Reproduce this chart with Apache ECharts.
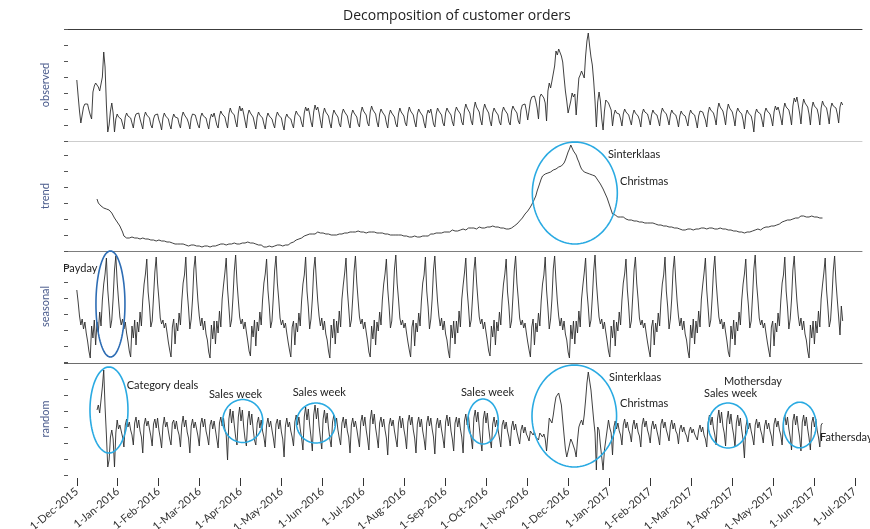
<!DOCTYPE html>
<html>
<head>
<meta charset="utf-8">
<title>Decomposition of customer orders</title>
<script src="https://cdn.jsdelivr.net/npm/echarts@6/dist/echarts.min.js"></script>
<style>
  html, body { margin: 0; padding: 0; background: #ffffff; }
  #chart { width: 870px; height: 529px; }
</style>
</head>
<body>
<div id="chart"></div>
<script>
// Day 0 is 1 Dec 2015; every series is one value per day.
const SPAN_DAYS = 578; // 1-Dec-2015 .. 1-Jul-2017

const monthLabels = [
  '1-Dec-2015', '1-Jan-2016', '1-Feb-2016', '1-Mar-2016', '1-Apr-2016', '1-May-2016',
  '1-Jun-2016', '1-Jul-2016', '1-Aug-2016', '1-Sep-2016', '1-Oct-2016', '1-Nov-2016',
  '1-Dec-2016', '1-Jan-2017', '1-Feb-2017', '1-Mar-2017', '1-Apr-2017', '1-May-2017',
  '1-Jun-2017', '1-Jul-2017'
];

// Daily customer orders (index units), starting at day 0.
const observedStart = 0;
const observed = [
  61, 45, 30, 18, 26, 34, 37, 36, 37, 31, 26, 22, 49, 55,
  58, 57, 54, 50, 48, 64, 89, 74, 36, 9, 16, 30, 38, 28,
  9, 22, 27, 24, 26, 22, 17,
  12, 24, 28, 25, 27, 23, 18,
  13, 23, 27, 25, 28, 22, 17,
  12, 24, 29, 26, 27, 23, 16,
  13, 22, 26, 24, 27, 21, 17,
  11, 23, 28, 25, 26, 22, 16,
  12, 22, 27, 24, 26, 23, 17,
  13, 24, 29, 26, 28, 22, 18,
  12, 23, 27, 25, 26, 21, 16,
  13, 24, 28, 25, 27, 23, 17,
  12, 22, 27, 24, 28, 22, 16,
  13, 25, 30, 27, 29, 24, 18,
  13, 27, 33, 29, 31, 26, 19,
  14, 28, 35, 30, 33, 27, 20,
  13, 26, 31, 28, 30, 24, 18,
  12, 24, 29, 26, 28, 23, 17,
  12, 23, 28, 25, 27, 22, 17,
  13, 24, 29, 26, 28, 23, 16,
  11, 23, 27, 24, 26, 22, 17,
  13, 25, 30, 27, 29, 24, 18,
  14, 28, 34, 30, 33, 27, 19,
  14, 29, 36, 31, 34, 28, 20,
  13, 27, 33, 29, 31, 25, 18,
  13, 25, 31, 28, 30, 24, 17,
  14, 27, 32, 29, 31, 25, 18,
  13, 26, 31, 28, 30, 24, 17,
  14, 28, 34, 30, 32, 26, 18,
  15, 29, 35, 31, 33, 27, 19,
  14, 27, 32, 29, 31, 25, 18,
  13, 26, 31, 28, 30, 24, 17,
  14, 27, 33, 29, 31, 25, 18,
  15, 28, 34, 30, 32, 26, 19,
  14, 27, 32, 29, 31, 25, 18,
  13, 26, 31, 28, 32, 25, 17,
  14, 27, 33, 30, 31, 26, 18,
  15, 28, 33, 30, 32, 26, 19,
  15, 29, 34, 31, 33, 27, 19,
  16, 31, 37, 33, 35, 28, 20,
  16, 32, 39, 34, 36, 29, 21,
  16, 31, 37, 33, 35, 28, 20,
  15, 28, 33, 30, 32, 26, 19,
  16, 29, 34, 31, 33, 27, 19,
  16, 30, 35, 32, 34, 28, 20,
  17, 31, 36, 34, 37, 30, 21,
  20, 40, 44, 42, 45, 40, 33,
  22, 44, 47, 49, 43, 38, 20,
  50, 58, 53, 60, 62, 75, 90,
  86, 92, 93, 85, 79, 64, 50,
  40, 28, 26, 40, 48, 44, 47,
  26, 45, 63, 66, 70, 72, 63,
  85, 100, 108, 95, 84, 76, 60,
  40, 14, 39, 49, 40, 22, 11,
  30, 41, 40, 38, 36, 31, 15,
  26, 31, 28, 30, 27, 22, 15,
  27, 32, 29, 31, 26, 21, 16,
  26, 31, 28, 30, 25, 21, 14,
  27, 32, 29, 31, 27, 22, 16,
  26, 31, 28, 30, 26, 21, 15,
  27, 33, 30, 32, 27, 22, 16,
  26, 31, 28, 30, 26, 21, 14,
  25, 30, 27, 29, 25, 20, 15,
  26, 31, 28, 30, 26, 20, 13,
  25, 30, 28, 29, 25, 21, 14,
  28, 34, 31, 33, 28, 23, 16,
  31, 38, 34, 36, 30, 24, 16,
  30, 37, 33, 35, 29, 23, 15,
  28, 33, 30, 32, 27, 21, 12,
  26, 31, 28, 30, 25, 19, 9,
  27, 32, 29, 31, 27, 21, 14,
  28, 33, 30, 32, 27, 22, 15,
  29, 35, 31, 34, 29, 23, 16,
  31, 38, 34, 36, 31, 25, 16,
  35, 43, 39, 44, 36, 28, 17,
  34, 42, 38, 40, 34, 27, 16,
  32, 39, 35, 37, 32, 26, 16,
  33, 40, 36, 38, 33, 26, 17,
  32, 38, 35, 37, 33, 27, 18,
  34, 39, 36
];

// Trend component, starting at day 15.
const trendStart = 15;
const trend = [
  52, 48, 46, 45, 44, 43, 43, 42, 42, 41,
  40, 38, 36, 33, 31, 29, 27, 25, 22, 19,
  15, 13, 13, 14, 13, 13, 14, 13, 13, 12,
  13, 13, 12, 12, 13, 12, 12, 11, 12, 11,
  11, 12, 11, 11, 10, 11, 11, 10, 10, 9,
  10, 9, 9, 8, 9, 8, 8, 8, 7, 8,
  7, 7, 7, 6, 7, 6, 6, 6, 5, 6,
  6, 5, 6, 5, 5, 6, 5, 5, 4, 5,
  5, 4, 5, 5, 4, 5, 5, 6, 5, 6,
  6, 6, 7, 6, 7, 7, 6, 7, 7, 8,
  7, 7, 8, 7, 7, 8, 7, 8, 8, 7,
  8, 8, 9, 8, 8, 9, 8, 7, 7, 6,
  6, 5, 6, 5, 4, 5, 4, 4, 5, 5,
  4, 5, 5, 5, 6, 5, 6, 6, 5, 6,
  6, 7, 6, 7, 8, 9, 9, 10, 11, 12,
  12, 13, 13, 14, 15, 15, 16, 16, 17, 16,
  17, 18, 17, 18, 19, 18, 18, 17, 18, 17,
  17, 16, 17, 16, 16, 17, 16, 16, 16, 17,
  17, 18, 17, 18, 18, 19, 18, 19, 19, 18,
  19, 18, 19, 19, 20, 19, 19, 20, 19, 19,
  18, 19, 19, 18, 19, 18, 19, 18, 18, 18,
  18, 17, 18, 17, 17, 16, 17, 17, 16, 17,
  16, 16, 16, 17, 16, 15, 16, 15, 15, 16,
  15, 15, 14, 15, 14, 14, 15, 14, 14, 13,
  14, 14, 15, 14, 15, 16, 15, 16, 17, 16,
  17, 17, 18, 17, 18, 19, 18, 19, 19, 20,
  19, 20, 19, 20, 21, 20, 20, 19, 20, 20,
  21, 21, 22, 22, 21, 22, 23, 22, 23, 22,
  23, 23, 22, 23, 24, 23, 23, 24, 23, 24,
  24, 23, 24, 24, 25, 24, 24, 23, 24, 24,
  23, 24, 23, 23, 22, 23, 22, 22, 23, 24,
  25, 26, 27, 28, 30, 31, 33, 35, 37, 38,
  40, 42, 44, 46, 49, 52, 55, 60, 64, 68,
  72, 75, 76, 77, 77, 78, 79, 79, 80, 81,
  81, 82, 83, 84, 84, 85, 86, 88, 91, 95,
  99, 102, 106, 103, 100, 98, 96, 92, 89, 85,
  82, 80, 79, 79, 78, 78, 77, 77, 76, 76,
  75, 73, 71, 69, 67, 65, 62, 59, 56, 53,
  49, 45, 41, 37, 35, 36, 35, 34, 35, 34,
  33, 34, 33, 32, 32, 31, 32, 31, 31, 30,
  31, 30, 30, 29, 30, 29, 29, 28, 29, 28,
  28, 28, 27, 28, 27, 27, 27, 26, 27, 26,
  26, 25, 26, 25, 25, 24, 25, 24, 24, 23,
  24, 23, 23, 22, 22, 21, 22, 21, 21, 22,
  21, 22, 22, 21, 22, 22, 23, 22, 22, 23,
  22, 23, 23, 22, 23, 23, 22, 23, 23, 22,
  23, 22, 23, 23, 22, 22, 21, 22, 21, 21,
  20, 21, 20, 20, 19, 20, 19, 19, 20, 19,
  19, 18, 19, 19, 19, 19, 20, 20, 21, 21,
  21, 22, 22, 21, 22, 23, 23, 24, 23, 24,
  24, 25, 24, 25, 25, 26, 27, 27, 28, 29,
  29, 30, 30, 31, 30, 31, 32, 32, 33, 33,
  34, 33, 34, 35, 34, 35, 35, 34, 35, 34,
  34, 35, 34, 34, 33, 34, 33, 33, 34, 33
];

// Monthly (payday) seasonal component, starting at day 0.
const seasonalStart = 0;
const seasonal = [
  72, 60, 46, 37, 43, 33, 40, 29, 21, 11, 4, 36, 24, 42, 17, 40, 30, 50, 36, 62, 78, 88,
  104, 72, 55, 34, 42, 64, 92, 106, 80, 62, 45, 37, 43, 33, 40, 29, 21, 11, 5, 36, 24, 42, 17, 40, 30, 50, 36, 62, 78, 88,
  103, 70, 56, 35, 41, 65, 90, 105, 79, 63, 44, 38, 42, 34, 39, 30, 20, 12, 5, 35, 43, 18, 39, 31, 49, 37, 61, 79, 87,
  105, 71, 54, 33, 43, 63, 93, 106, 81, 61, 46, 36, 44, 32, 41, 28, 22, 10, 4, 37, 23, 41, 18, 41, 29, 51, 35, 63, 77, 89,
  104, 73, 55, 35, 42, 64, 91, 107, 80, 62, 45, 38, 43, 33, 40, 30, 21, 11, 6, 36, 25, 42, 16, 40, 31, 50, 37, 62, 79, 88,
  103, 72, 56, 34, 41, 65, 92, 106, 79, 63, 44, 37, 42, 34, 39, 29, 20, 12, 5, 35, 41, 17, 39, 30, 49, 36, 61, 78, 87,
  105, 71, 55, 33, 43, 63, 92, 105, 81, 61, 46, 36, 44, 32, 41, 28, 22, 11, 4, 37, 24, 43, 18, 41, 29, 51, 35, 63, 77, 89,
  104, 72, 54, 35, 42, 64, 91, 106, 80, 62, 45, 38, 43, 33, 40, 30, 21, 10, 5, 36, 23, 42, 17, 40, 31, 50, 37, 62, 78, 88,
  103, 73, 56, 34, 41, 65, 93, 107, 79, 63, 44, 37, 42, 34, 39, 29, 20, 12, 5, 35, 42, 16, 39, 30, 49, 36, 61, 79, 87,
  105, 71, 55, 33, 43, 63, 92, 106, 81, 61, 46, 36, 44, 32, 41, 28, 22, 11, 4, 37, 24, 41, 18, 41, 29, 51, 35, 63, 77, 89,
  104, 72, 55, 35, 42, 64, 91, 105, 80, 62, 45, 38, 43, 33, 40, 30, 21, 11, 6, 36, 25, 42, 17, 40, 31, 50, 37, 62, 78, 88,
  103, 70, 56, 34, 41, 65, 92, 106, 79, 63, 44, 37, 42, 34, 39, 29, 20, 12, 5, 35, 43, 17, 39, 30, 49, 36, 61, 78, 87,
  105, 72, 54, 33, 43, 63, 93, 106, 81, 61, 46, 36, 44, 32, 41, 28, 22, 10, 4, 37, 23, 41, 18, 41, 29, 51, 35, 63, 77, 89,
  104, 71, 55, 35, 42, 64, 91, 107, 80, 62, 45, 38, 43, 33, 40, 30, 21, 11, 5, 36, 24, 42, 16, 40, 31, 50, 37, 62, 79, 88,
  103, 73, 56, 34, 41, 65, 92, 105, 79, 63, 44, 37, 42, 34, 39, 29, 20, 12, 5, 35, 42, 17, 39, 30, 49, 36, 61, 78, 87,
  105, 71, 55, 33, 43, 63, 92, 106, 81, 61, 46, 36, 44, 32, 41, 28, 22, 11, 4, 37, 24, 43, 18, 41, 29, 51, 35, 63, 77, 89,
  104, 72, 54, 35, 42, 64, 91, 106, 80, 62, 45, 38, 43, 33, 40, 30, 21, 10, 5, 36, 23, 42, 17, 40, 31, 50, 37, 62, 78, 88,
  103, 72, 56, 34, 41, 65, 93, 107, 79, 63, 44, 37, 42, 34, 39, 29, 20, 12, 5, 35, 41, 16, 39, 30, 49, 36, 61, 79, 87,
  105, 71, 55, 33, 43, 63, 92, 106, 81, 61, 46, 36, 44, 32, 41, 28, 22, 11, 4, 37, 24, 41, 18, 41, 29, 51, 35, 63, 77, 89,
  104, 72, 55, 35, 42, 64, 91, 106, 80, 62, 45, 27, 56, 41
];

// Remainder component, starting at day 15.
const randomStart = 15;
const random = [
  65, 70, 62, 60, 88, 105, 68, 40, 8, 15, 38, 45, 36,
  8, 42, 55, 46, 50, 44, 38,
  28, 50, 56, 48, 53, 45, 40,
  30, 52, 58, 47, 55, 44, 38,
  22, 50, 57, 49, 54, 46, 39,
  29, 51, 56, 47, 57, 45, 37,
  27, 49, 58, 48, 53, 44, 36,
  30, 52, 55, 46, 54, 45, 40,
  28, 50, 59, 48, 55, 43, 37,
  22, 49, 56, 47, 53, 46, 39,
  29, 51, 57, 48, 56, 44, 38,
  30, 50, 55, 46, 54, 45, 36,
  27, 52, 58, 49, 57, 46, 40,
  15, 56, 66, 52, 64, 50, 38,
  30, 58, 68, 54, 65, 48, 36,
  29, 55, 64, 50, 61, 46, 35,
  30, 52, 58, 47, 55, 44, 38,
  28, 50, 57, 48, 54, 45, 37,
  27, 51, 56, 46, 55, 43, 36,
  18, 49, 57, 48, 53, 44, 38,
  29, 53, 60, 50, 58, 46, 37,
  25, 58, 68, 55, 66, 50, 38,
  24, 60, 70, 56, 67, 49, 37,
  26, 56, 65, 52, 62, 47, 36,
  28, 53, 60, 49, 57, 45, 37,
  30, 52, 58, 47, 56, 44, 38,
  22, 50, 57, 48, 54, 46, 37,
  28, 53, 60, 49, 58, 45, 36,
  25, 55, 65, 51, 61, 47, 38,
  27, 52, 58, 48, 56, 45, 37,
  20, 50, 57, 49, 55, 44, 36,
  28, 52, 59, 47, 57, 46, 38,
  26, 53, 60, 50, 58, 45, 37,
  22, 51, 58, 48, 56, 44, 36,
  25, 52, 59, 49, 57, 46, 38,
  21, 50, 57, 47, 55, 45, 37,
  27, 53, 60, 49, 58, 44, 36,
  24, 52, 58, 48, 57, 46, 38,
  22, 54, 61, 50, 59, 45, 37,
  26, 57, 65, 53, 63, 48, 35,
  24, 56, 64, 52, 62, 47, 36,
  27, 51, 58, 48, 55, 45, 37,
  28, 50, 55, 46, 53, 44, 38,
  29, 48, 54, 45, 51, 43, 37,
  31, 45, 50, 42, 48, 41, 38,
  34, 44, 46, 40, 43, 38, 36,
  35, 42, 40, 38, 41, 36, 24,
  23, 57, 55, 52, 60, 70, 78,
  80, 82, 82, 70, 55, 40, 26,
  18, 24, 30, 36, 33, 32, 25,
  18, 35, 48, 52, 55, 50, 60,
  75, 92, 103, 94, 85, 70, 55,
  42, 5, 48, 45, 30, 18, 5,
  25, 35, 45, 55, 47, 42, 20,
  48, 54, 46, 52, 44, 40, 30,
  50, 56, 47, 53, 45, 41, 33,
  49, 55, 46, 52, 43, 39, 28,
  50, 57, 48, 54, 45, 40, 32,
  48, 54, 46, 51, 44, 38, 30,
  51, 56, 47, 53, 45, 40, 34,
  49, 55, 46, 52, 44, 41, 31,
  46, 50, 43, 48, 42, 39, 33,
  44, 48, 42, 46, 41, 38, 35,
  45, 50, 43, 48, 40, 36, 28,
  52, 60, 50, 58, 47, 40, 30,
  56, 65, 52, 63, 49, 42, 29,
  55, 64, 51, 61, 48, 40, 28,
  52, 60, 49, 57, 45, 35, 17,
  48, 55, 46, 52, 44, 38, 30,
  50, 56, 47, 53, 45, 40, 32,
  49, 55, 46, 52, 44, 39, 29,
  51, 57, 48, 54, 45, 40, 30,
  53, 60, 50, 58, 46, 38, 25,
  54, 61, 50, 59, 47, 38, 24,
  53, 60, 49, 58, 46, 37, 25,
  52, 58, 48, 56, 45, 38, 28,
  50, 52
];

// Circled events: panel index, centre as (day, value), radii in pixels.
const eventRings = [
  { panel: 2, day: 25.0, value: 58, rx: 14.5, ry: 53, color: '#2e6db4' },
  { panel: 1, day: 370.0, value: 58, rx: 42.5, ry: 51, color: '#2aaae2' },
  { panel: 3, day: 23.9, value: 65, rx: 19, ry: 43, color: '#2aaae2' },
  { panel: 3, day: 123.3, value: 54, rx: 20, ry: 21.5, color: '#2aaae2' },
  { panel: 3, day: 177.7, value: 52, rx: 19.5, ry: 20, color: '#2aaae2' },
  { panel: 3, day: 301.8, value: 53.5, rx: 15.3, ry: 22.5, color: '#2aaae2' },
  { panel: 3, day: 369.6, value: 59, rx: 42.3, ry: 51, color: '#2aaae2' },
  { panel: 3, day: 483.8, value: 49.5, rx: 19.7, ry: 22.5, color: '#2aaae2' },
  { panel: 3, day: 537.1, value: 50, rx: 16.4, ry: 22.8, color: '#2aaae2' }
];

// Event notes: panel index, left edge as day, vertical centre as value.
const eventNotes = [
  { panel: 2, day: -10.3, value: 94, text: 'Payday' },
  { panel: 1, day: 394.6, value: 97, text: 'Sinterklaas' },
  { panel: 1, day: 403.6, value: 70, text: 'Christmas' },
  { panel: 3, day: 37.1, value: 90, text: 'Category deals' },
  { panel: 3, day: 98.2, value: 81, text: 'Sales week' },
  { panel: 3, day: 160.4, value: 83, text: 'Sales week' },
  { panel: 3, day: 285.4, value: 83, text: 'Sales week' },
  { panel: 3, day: 395.4, value: 98, text: 'Sinterklaas' },
  { panel: 3, day: 403.6, value: 72, text: 'Christmas' },
  { panel: 3, day: 466.0, value: 82, text: 'Sales week' },
  { panel: 3, day: 480.8, value: 94, text: 'Mothersday' },
  { panel: 3, day: 552.1, value: 38, text: 'Fathersday' }
];

const panels = [
  { name: 'observed', start: observedStart, values: observed, top: 29,  height: 112, edge: '#3c3c3c' },
  { name: 'trend',    start: trendStart,    values: trend,    top: 141, height: 110, edge: '#cdcdcd' },
  { name: 'seasonal', start: seasonalStart, values: seasonal, top: 251, height: 111, edge: '#7d7d7d' },
  { name: 'random',   start: randomStart,   values: random,   top: 363, height: 112, edge: '#6d6d6d' }
];

const PLOT_LEFT = 68, PLOT_RIGHT = 862;
const TICK_FIRST_PX = 76.8, TICK_LAST_PX = 854.8;
const pxPerDay = (TICK_LAST_PX - TICK_FIRST_PX) / SPAN_DAYS;
const X_MIN = -(TICK_FIRST_PX - PLOT_LEFT) / pxPerDay;
const X_MAX = SPAN_DAYS + (PLOT_RIGHT - TICK_LAST_PX) / pxPerDay;
const tickStep = SPAN_DAYS / (monthLabels.length - 1);
const tickDays = monthLabels.map((_, i) => i * tickStep);

const FONT = 'Lato, "Open Sans", "Liberation Sans", sans-serif';

const grids = [], xAxes = [], yAxes = [], series = [];
panels.forEach((p, i) => {
  grids.push({
    left: PLOT_LEFT, width: PLOT_RIGHT - PLOT_LEFT, top: p.top, height: p.height,
    containLabel: false, outerBoundsMode: 'none'
  });
  xAxes.push({
    type: 'value', gridIndex: i, position: 'top', min: X_MIN, max: X_MAX,
    axisLine: { show: true, onZero: false, lineStyle: { color: p.edge, width: 1 } },
    axisTick: { show: false }, axisLabel: { show: false }, splitLine: { show: false }
  });
  yAxes.push({
    type: 'value', gridIndex: i, min: 0, max: p.height,
    name: p.name, nameLocation: 'middle', nameGap: 17,
    nameTextStyle: { color: '#4a5b8c', fontSize: 11, fontFamily: FONT },
    axisLine: { show: false, onZero: false },
    axisTick: { show: true, length: 4, inside: false, lineStyle: { color: '#555' } },
    interval: 16,
    axisLabel: { show: false }, splitLine: { show: false }
  });
  series.push({
    type: 'line', xAxisIndex: i, yAxisIndex: i,
    data: p.values.map((v, k) => [p.start + k, v]),
    showSymbol: false, symbol: 'none', smooth: false,
    lineStyle: { color: '#2b2b2b', width: 0.9 },
    silent: true, animation: false, clip: false
  });
});

// Date axis under the last panel.
xAxes.push({
  type: 'value', gridIndex: 3, position: 'bottom', min: X_MIN, max: X_MAX, offset: 3,
  axisLine: { show: false, onZero: false },
  axisTick: { show: true, length: 8, customValues: tickDays, lineStyle: { color: '#333', width: 1 } },
  axisLabel: {
    show: true, customValues: tickDays, rotate: 40, margin: 12,
    color: '#333', fontSize: 11, fontFamily: FONT,
    formatter: (val) => monthLabels[Math.round(val / tickStep)] || ''
  },
  splitLine: { show: false }
});

const chart = echarts.init(document.getElementById('chart'), null, { renderer: 'canvas' });
chart.setOption({
  animation: false,
  backgroundColor: '#ffffff',
  title: {
    text: 'Decomposition of customer orders', left: 338, top: 4,
    textStyle: { fontSize: 14, fontWeight: 'normal', color: '#222', fontFamily: '"Open Sans", sans-serif' }
  },
  grid: grids, xAxis: xAxes, yAxis: yAxes, series: series
});

// Rings and notes are placed through the panels' own coordinate systems.
function ringPoints(cx, cy, rx, ry) {
  const pts = [];
  for (let k = 0; k < 96; k++) {
    const t = (k / 96) * Math.PI * 2;
    pts.push([cx + rx * Math.cos(t), cy + ry * Math.sin(t)]);
  }
  return pts;
}
const graphics = [];
eventRings.forEach((r) => {
  const c = chart.convertToPixel({ gridIndex: r.panel }, [r.day, r.value]);
  graphics.push({
    type: 'polygon', silent: true, z: 10,
    shape: { points: ringPoints(c[0], c[1], r.rx, r.ry) },
    style: { fill: 'none', stroke: r.color, lineWidth: 1.6 }
  });
});
eventNotes.forEach((n) => {
  const c = chart.convertToPixel({ gridIndex: n.panel }, [n.day, n.value]);
  graphics.push({
    type: 'text', silent: true, z: 11, x: c[0], y: c[1],
    style: { text: n.text, fill: '#222', font: '11px ' + FONT, align: 'left', verticalAlign: 'middle' }
  });
});
chart.setOption({ graphic: graphics });
</script>
</body>
</html>
